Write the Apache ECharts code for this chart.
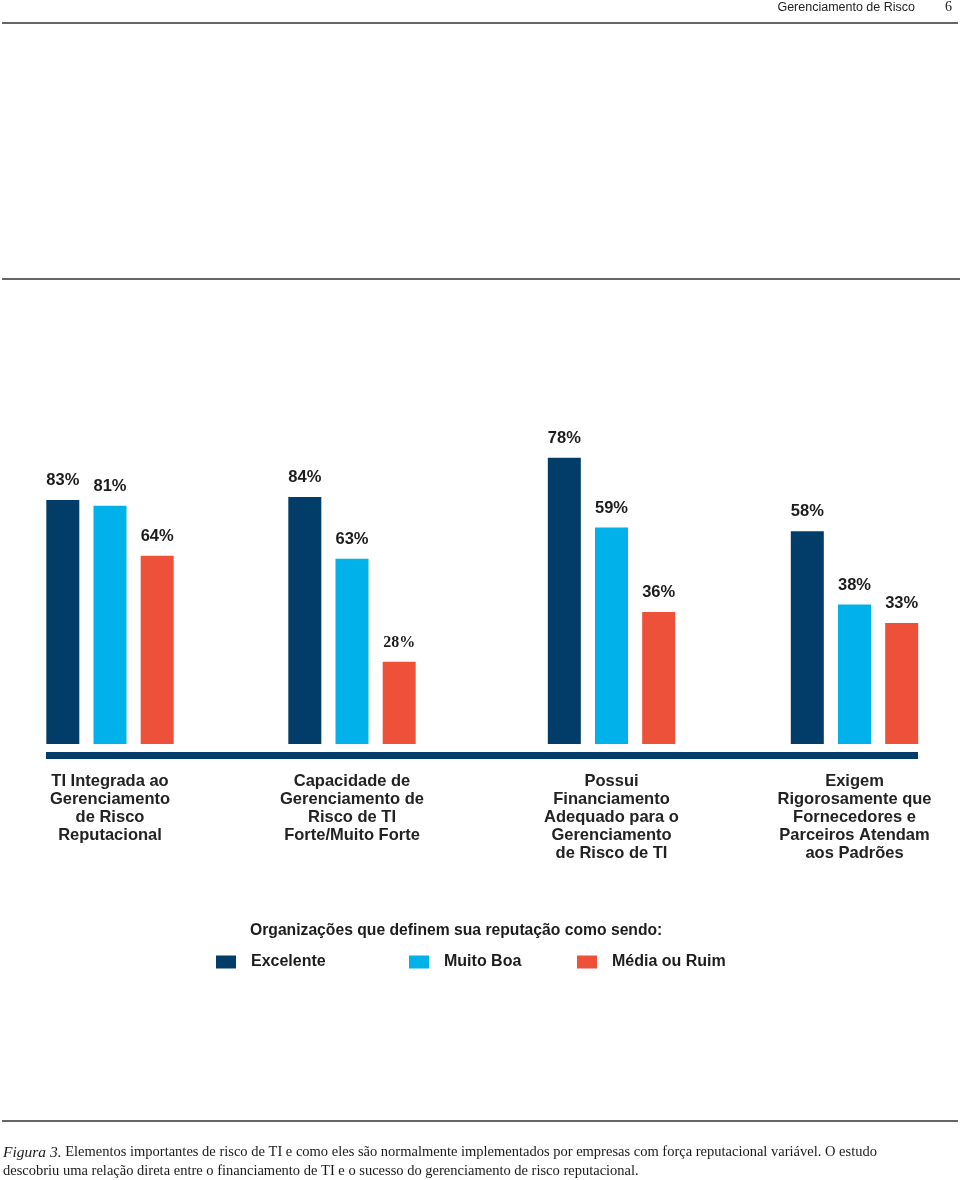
<!DOCTYPE html>
<html>
<head>
<meta charset="utf-8">
<script src="https://cdn.jsdelivr.net/npm/echarts@6/dist/echarts.min.js"></script>
<style>
html,body{margin:0;padding:0;background:#fff;}
#chart{width:960px;height:1180px;}
</style>
</head>
<body>
<div id="chart"></div>
<script>
// ---- data ----
const categoriesLeft = [
  'TI Integrada ao\nGerenciamento\nde Risco\nReputacional',
  'Capacidade de\nGerenciamento de\nRisco de TI\nForte/Muito Forte'
];
const categoriesRight = [
  'Possui\nFinanciamento\nAdequado para o\nGerenciamento\nde Risco de TI',
  'Exigem\nRigorosamente que\nFornecedores e\nParceiros Atendam\naos Padrões'
];
const seriesNames = ['Excelente', 'Muito Boa', 'Média ou Ruim'];
const excelente = [83, 84, 78, 58];
const muitoBoa = [81, 63, 59, 38];
const mediaRuim = [64, 28, 36, 33];
const legendTitle = 'Organizações que definem sua reputação como sendo:';
const headerText = 'Gerenciamento de Risco';
const pageNumber = '6';
const captionLead = 'Figura 3.';
const captionLine1 = ' Elementos importantes de risco de TI e como eles são normalmente implementados por empresas com força reputacional variável. O estudo';
const captionLine2 = 'descobriu uma relação direta entre o financiamento de TI e o sucesso do gerenciamento de risco reputacional.';

// ---- styles ----
const colors = ['#023c69', '#00b1ea', '#ee5139'];
const sans = 'Liberation Sans, Arial, sans-serif';
const serif = 'Liberation Serif, Times New Roman, serif';
const textColor = '#1c1c1c';

const allValues = [excelente, muitoBoa, mediaRuim];

function makeSeries(gridIdx, start) {
  return seriesNames.map((name, si) => ({
    type: 'bar',
    name: name,
    xAxisIndex: gridIdx,
    yAxisIndex: gridIdx,
    barWidth: 33,
    barGap: '43%',
    itemStyle: { color: colors[si] },
    label: {
      show: true,
      position: 'top',
      distance: 11,
      formatter: '{c}%',
      fontFamily: sans,
      fontSize: 16.5,
      fontWeight: 'bold',
      color: textColor
    },
    data: allValues[si].slice(start, start + 2).map((v, i) => {
      // the 28% label in the source is set in a serif face
      if (si === 2 && start + i === 1) {
        return { value: v, label: { fontFamily: serif, fontSize: 16, fontWeight: 'bold' } };
      }
      return v;
    })
  }));
}

function xAxisFor(gridIdx, cats) {
  return {
    type: 'category',
    gridIndex: gridIdx,
    data: cats,
    axisLine: { show: false },
    axisTick: { show: false },
    axisLabel: {
      interval: 0,
      margin: 28,
      fontFamily: sans,
      fontSize: 16.5,
      fontWeight: 'bold',
      lineHeight: 18,
      color: '#222',
      align: 'center'
    }
  };
}
function yAxisFor(gridIdx) {
  return { type: 'value', gridIndex: gridIdx, min: 0, max: 100, show: false, splitLine: { show: false } };
}

const legends = seriesNames.map((name, i) => ({
  data: [name],
  left: [211, 404, 572][i],
  top: 949,
  icon: 'rect',
  itemWidth: 20,
  itemHeight: 13,
  selectedMode: false,
  textStyle: { fontFamily: sans, fontSize: 16, fontWeight: 'bold', color: textColor, padding: [0, 0, 0, 10] }
}));

const option = {
  animation: false,
  backgroundColor: '#ffffff',
  title: {
    text: legendTitle,
    left: 250,
    top: 923,
    padding: 0,
    textStyle: { fontFamily: sans, fontSize: 15.7, fontWeight: 'bold', color: textColor }
  },
  legend: legends,
  grid: [
    { left: -11, width: 484, top: 450, height: 294, outerBoundsMode: 'none', containLabel: false },
    { left: 490, width: 486, top: 377, height: 367, outerBoundsMode: 'none', containLabel: false }
  ],
  xAxis: [xAxisFor(0, categoriesLeft), xAxisFor(1, categoriesRight)],
  yAxis: [yAxisFor(0), yAxisFor(1)],
  series: [...makeSeries(0, 0), ...makeSeries(1, 2)],
  graphic: [
    // header
    { type: 'text', right: 45, top: 1, style: { text: headerText, font: '12.5px ' + sans, fill: '#222' } },
    { type: 'text', left: 945, top: 0, style: { text: pageNumber, font: '14px ' + serif, fill: '#222' } },
    { type: 'line', shape: { x1: 2, y1: 23, x2: 958, y2: 23 }, style: { stroke: '#333', lineWidth: 1.3 } },
    // rule across page
    { type: 'line', shape: { x1: 2, y1: 279, x2: 960, y2: 279 }, style: { stroke: '#333', lineWidth: 1.5 } },
    // thick baseline under bars
    { type: 'rect', shape: { x: 46, y: 752, width: 872, height: 7 }, style: { fill: '#023c69' } },
    // footer rule
    { type: 'line', shape: { x1: 2, y1: 1121, x2: 958, y2: 1121 }, style: { stroke: '#333', lineWidth: 1.3 } },
    // caption
    {
      type: 'text', left: 3, top: 1143,
      style: {
        text: '{i|' + captionLead + '}' + captionLine1 + '\n' + captionLine2,
        font: '14.5px ' + serif,
        fill: '#1a1a1a',
        lineHeight: 19,
        rich: { i: { fontStyle: 'italic', fontFamily: serif, fontSize: 15.5, fill: '#1a1a1a' } }
      }
    }
  ]
};

const chart = echarts.init(document.getElementById('chart'), null, { renderer: 'canvas' });
chart.setOption(option);
</script>
</body>
</html>
